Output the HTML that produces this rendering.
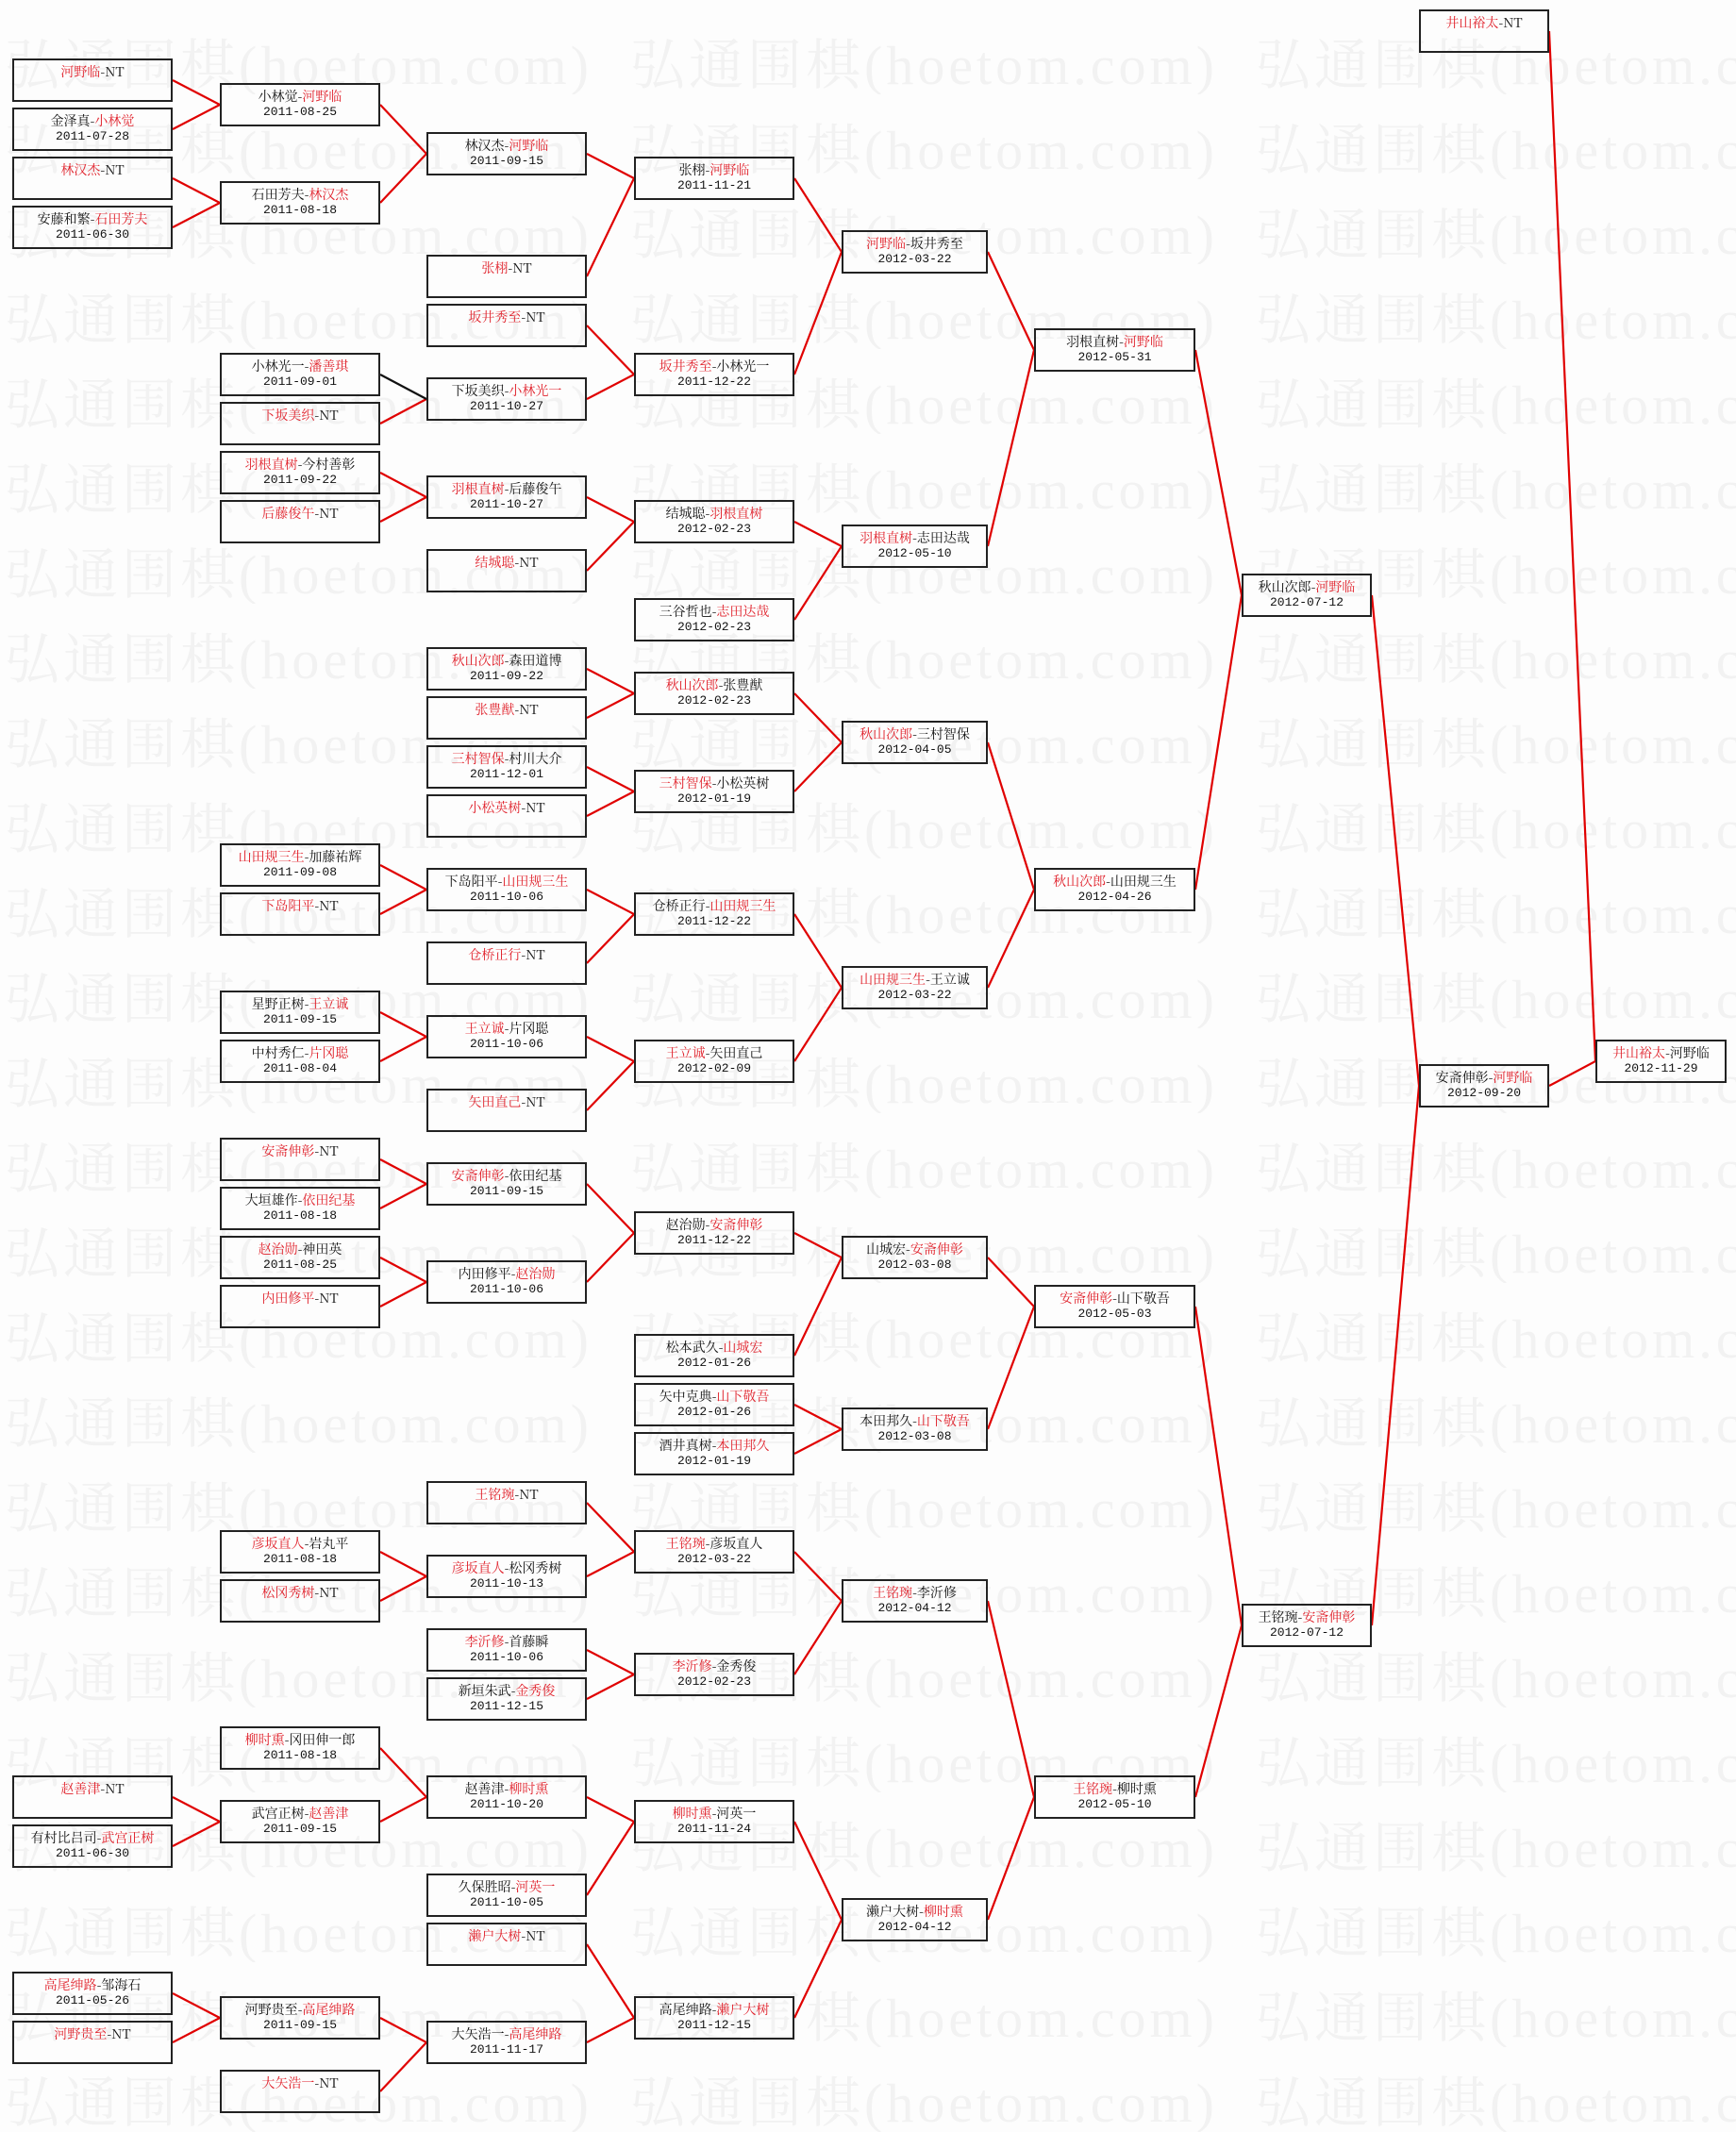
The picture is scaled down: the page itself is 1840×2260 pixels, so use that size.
<!DOCTYPE html>
<html><head><meta charset="utf-8">
<style>
html,body{margin:0;padding:0;}
body{width:1840px;height:2249px;position:relative;overflow:hidden;background:#fdfdfd;font-family:"Liberation Serif","Noto Serif CJK SC",serif;}
.wm{position:absolute;left:5px;white-space:nowrap;color:#f2f2f2;font-size:58px;line-height:60px;font-family:"Liberation Serif","Noto Serif CJK SC",serif;letter-spacing:4px;}
.wm span{display:inline-block;width:663px;overflow:hidden;vertical-align:top;}
svg{position:absolute;left:0;top:0;}
.b{position:absolute;box-sizing:border-box;height:46px;border:2px solid #222;text-align:center;padding-top:4px;}
.b .t{font-size:14px;line-height:17px;color:#111;font-family:"Noto Serif CJK SC","Liberation Serif",serif;white-space:nowrap;}
.b .d{font-size:13px;line-height:16px;color:#111;font-family:"Liberation Mono",monospace;}
.r{color:#e0202a;}
.c1{left:13px;width:170px}.c2{left:233px;width:170px}.c3{left:452px;width:170px}.c4{left:672px;width:170px}
.c5{left:892px;width:155px}.c6{left:1096px;width:171px}.c7{left:1316px;width:138px}.c8{left:1504px;width:138px}.c9{left:1691px;width:139px}
</style></head><body>
<div class="wm" style="top:40px"><span>弘通围棋(hoetom.com)</span><span>弘通围棋(hoetom.com)</span><span>弘通围棋(hoetom.com)</span></div>
<div class="wm" style="top:130px"><span>弘通围棋(hoetom.com)</span><span>弘通围棋(hoetom.com)</span><span>弘通围棋(hoetom.com)</span></div>
<div class="wm" style="top:220px"><span>弘通围棋(hoetom.com)</span><span>弘通围棋(hoetom.com)</span><span>弘通围棋(hoetom.com)</span></div>
<div class="wm" style="top:310px"><span>弘通围棋(hoetom.com)</span><span>弘通围棋(hoetom.com)</span><span>弘通围棋(hoetom.com)</span></div>
<div class="wm" style="top:400px"><span>弘通围棋(hoetom.com)</span><span>弘通围棋(hoetom.com)</span><span>弘通围棋(hoetom.com)</span></div>
<div class="wm" style="top:490px"><span>弘通围棋(hoetom.com)</span><span>弘通围棋(hoetom.com)</span><span>弘通围棋(hoetom.com)</span></div>
<div class="wm" style="top:580px"><span>弘通围棋(hoetom.com)</span><span>弘通围棋(hoetom.com)</span><span>弘通围棋(hoetom.com)</span></div>
<div class="wm" style="top:670px"><span>弘通围棋(hoetom.com)</span><span>弘通围棋(hoetom.com)</span><span>弘通围棋(hoetom.com)</span></div>
<div class="wm" style="top:760px"><span>弘通围棋(hoetom.com)</span><span>弘通围棋(hoetom.com)</span><span>弘通围棋(hoetom.com)</span></div>
<div class="wm" style="top:850px"><span>弘通围棋(hoetom.com)</span><span>弘通围棋(hoetom.com)</span><span>弘通围棋(hoetom.com)</span></div>
<div class="wm" style="top:940px"><span>弘通围棋(hoetom.com)</span><span>弘通围棋(hoetom.com)</span><span>弘通围棋(hoetom.com)</span></div>
<div class="wm" style="top:1030px"><span>弘通围棋(hoetom.com)</span><span>弘通围棋(hoetom.com)</span><span>弘通围棋(hoetom.com)</span></div>
<div class="wm" style="top:1120px"><span>弘通围棋(hoetom.com)</span><span>弘通围棋(hoetom.com)</span><span>弘通围棋(hoetom.com)</span></div>
<div class="wm" style="top:1210px"><span>弘通围棋(hoetom.com)</span><span>弘通围棋(hoetom.com)</span><span>弘通围棋(hoetom.com)</span></div>
<div class="wm" style="top:1300px"><span>弘通围棋(hoetom.com)</span><span>弘通围棋(hoetom.com)</span><span>弘通围棋(hoetom.com)</span></div>
<div class="wm" style="top:1390px"><span>弘通围棋(hoetom.com)</span><span>弘通围棋(hoetom.com)</span><span>弘通围棋(hoetom.com)</span></div>
<div class="wm" style="top:1480px"><span>弘通围棋(hoetom.com)</span><span>弘通围棋(hoetom.com)</span><span>弘通围棋(hoetom.com)</span></div>
<div class="wm" style="top:1570px"><span>弘通围棋(hoetom.com)</span><span>弘通围棋(hoetom.com)</span><span>弘通围棋(hoetom.com)</span></div>
<div class="wm" style="top:1660px"><span>弘通围棋(hoetom.com)</span><span>弘通围棋(hoetom.com)</span><span>弘通围棋(hoetom.com)</span></div>
<div class="wm" style="top:1750px"><span>弘通围棋(hoetom.com)</span><span>弘通围棋(hoetom.com)</span><span>弘通围棋(hoetom.com)</span></div>
<div class="wm" style="top:1840px"><span>弘通围棋(hoetom.com)</span><span>弘通围棋(hoetom.com)</span><span>弘通围棋(hoetom.com)</span></div>
<div class="wm" style="top:1930px"><span>弘通围棋(hoetom.com)</span><span>弘通围棋(hoetom.com)</span><span>弘通围棋(hoetom.com)</span></div>
<div class="wm" style="top:2020px"><span>弘通围棋(hoetom.com)</span><span>弘通围棋(hoetom.com)</span><span>弘通围棋(hoetom.com)</span></div>
<div class="wm" style="top:2110px"><span>弘通围棋(hoetom.com)</span><span>弘通围棋(hoetom.com)</span><span>弘通围棋(hoetom.com)</span></div>
<div class="wm" style="top:2200px"><span>弘通围棋(hoetom.com)</span><span>弘通围棋(hoetom.com)</span><span>弘通围棋(hoetom.com)</span></div>

<svg width="1840" height="2249" viewBox="0 0 1840 2249">
<g stroke="#e00000" stroke-width="2.2" fill="none">
<polyline points="183,85 233,111 183,137"/>
<polyline points="183,189 233,215 183,241"/>
<polyline points="183,1905 233,1931 183,1957"/>
<polyline points="183,2113 233,2139 183,2165"/>

<polyline points="403,111 452,163 403,215"/>
<polyline points="403,449 452,423"/>
<polyline points="403,501 452,527 403,553"/>
<polyline points="403,917 452,943 403,969"/>
<polyline points="403,1073 452,1099 403,1125"/>
<polyline points="403,1229 452,1255 403,1281"/>
<polyline points="403,1333 452,1359 403,1385"/>
<polyline points="403,1645 452,1671 403,1697"/>
<polyline points="403,1853 452,1905 403,1931"/>
<polyline points="403,2139 452,2165 403,2217"/>

<polyline points="622,163 672,189 622,293"/>
<polyline points="622,345 672,397 622,423"/>
<polyline points="622,527 672,553 622,605"/>
<polyline points="622,709 672,735 622,761"/>
<polyline points="622,813 672,839 622,865"/>
<polyline points="622,943 672,969 622,1021"/>
<polyline points="622,1099 672,1125 622,1177"/>
<polyline points="622,1255 672,1307 622,1359"/>
<polyline points="622,1593 672,1645 622,1671"/>
<polyline points="622,1749 672,1775 622,1801"/>
<polyline points="622,1905 672,1931 622,2009"/>
<polyline points="622,2061 672,2139 622,2165"/>

<polyline points="842,189 892,267 842,397"/>
<polyline points="842,553 892,579 842,657"/>
<polyline points="842,735 892,787 842,839"/>
<polyline points="842,969 892,1047 842,1125"/>
<polyline points="842,1307 892,1333 842,1437"/>
<polyline points="842,1489 892,1515 842,1541"/>
<polyline points="842,1645 892,1697 842,1775"/>
<polyline points="842,1931 892,2035 842,2139"/>

<polyline points="1047,267 1096,371 1047,579"/>
<polyline points="1047,787 1096,943 1047,1047"/>
<polyline points="1047,1333 1096,1385 1047,1515"/>
<polyline points="1047,1697 1096,1905 1047,2035"/>

<polyline points="1267,371 1316,631 1267,943"/>
<polyline points="1267,1385 1316,1723 1267,1905"/>

<polyline points="1454,631 1504,1151 1454,1723"/>
<polyline points="1642,33 1691,1125 1642,1151"/>
</g>
<line x1="403" y1="397" x2="452" y2="423" stroke="#111" stroke-width="2.2"/>
</svg>

<div class="b c1" style="top:62px"><div class="t"><span class="r">河野临</span>-NT</div></div>
<div class="b c1" style="top:114px"><div class="t">金泽真-<span class="r">小林觉</span></div><div class="d">2011-07-28</div></div>
<div class="b c1" style="top:166px"><div class="t"><span class="r">林汉杰</span>-NT</div></div>
<div class="b c1" style="top:218px"><div class="t">安藤和繁-<span class="r">石田芳夫</span></div><div class="d">2011-06-30</div></div>
<div class="b c1" style="top:1882px"><div class="t"><span class="r">赵善津</span>-NT</div></div>
<div class="b c1" style="top:1934px"><div class="t">有村比吕司-<span class="r">武宫正树</span></div><div class="d">2011-06-30</div></div>
<div class="b c1" style="top:2090px"><div class="t"><span class="r">高尾绅路</span>-邹海石</div><div class="d">2011-05-26</div></div>
<div class="b c1" style="top:2142px"><div class="t"><span class="r">河野贵至</span>-NT</div></div>

<div class="b c2" style="top:88px"><div class="t">小林觉-<span class="r">河野临</span></div><div class="d">2011-08-25</div></div>
<div class="b c2" style="top:192px"><div class="t">石田芳夫-<span class="r">林汉杰</span></div><div class="d">2011-08-18</div></div>
<div class="b c2" style="top:374px"><div class="t">小林光一-<span class="r">潘善琪</span></div><div class="d">2011-09-01</div></div>
<div class="b c2" style="top:426px"><div class="t"><span class="r">下坂美织</span>-NT</div></div>
<div class="b c2" style="top:478px"><div class="t"><span class="r">羽根直树</span>-今村善彰</div><div class="d">2011-09-22</div></div>
<div class="b c2" style="top:530px"><div class="t"><span class="r">后藤俊午</span>-NT</div></div>
<div class="b c2" style="top:894px"><div class="t"><span class="r">山田规三生</span>-加藤祐辉</div><div class="d">2011-09-08</div></div>
<div class="b c2" style="top:946px"><div class="t"><span class="r">下岛阳平</span>-NT</div></div>
<div class="b c2" style="top:1050px"><div class="t">星野正树-<span class="r">王立诚</span></div><div class="d">2011-09-15</div></div>
<div class="b c2" style="top:1102px"><div class="t">中村秀仁-<span class="r">片冈聪</span></div><div class="d">2011-08-04</div></div>
<div class="b c2" style="top:1206px"><div class="t"><span class="r">安斋伸彰</span>-NT</div></div>
<div class="b c2" style="top:1258px"><div class="t">大垣雄作-<span class="r">依田纪基</span></div><div class="d">2011-08-18</div></div>
<div class="b c2" style="top:1310px"><div class="t"><span class="r">赵治勋</span>-神田英</div><div class="d">2011-08-25</div></div>
<div class="b c2" style="top:1362px"><div class="t"><span class="r">内田修平</span>-NT</div></div>
<div class="b c2" style="top:1622px"><div class="t"><span class="r">彦坂直人</span>-岩丸平</div><div class="d">2011-08-18</div></div>
<div class="b c2" style="top:1674px"><div class="t"><span class="r">松冈秀树</span>-NT</div></div>
<div class="b c2" style="top:1830px"><div class="t"><span class="r">柳时熏</span>-冈田伸一郎</div><div class="d">2011-08-18</div></div>
<div class="b c2" style="top:1908px"><div class="t">武宫正树-<span class="r">赵善津</span></div><div class="d">2011-09-15</div></div>
<div class="b c2" style="top:2116px"><div class="t">河野贵至-<span class="r">高尾绅路</span></div><div class="d">2011-09-15</div></div>
<div class="b c2" style="top:2194px"><div class="t"><span class="r">大矢浩一</span>-NT</div></div>

<div class="b c3" style="top:140px"><div class="t">林汉杰-<span class="r">河野临</span></div><div class="d">2011-09-15</div></div>
<div class="b c3" style="top:270px"><div class="t"><span class="r">张栩</span>-NT</div></div>
<div class="b c3" style="top:322px"><div class="t"><span class="r">坂井秀至</span>-NT</div></div>
<div class="b c3" style="top:400px"><div class="t">下坂美织-<span class="r">小林光一</span></div><div class="d">2011-10-27</div></div>
<div class="b c3" style="top:504px"><div class="t"><span class="r">羽根直树</span>-后藤俊午</div><div class="d">2011-10-27</div></div>
<div class="b c3" style="top:582px"><div class="t"><span class="r">结城聪</span>-NT</div></div>
<div class="b c3" style="top:686px"><div class="t"><span class="r">秋山次郎</span>-森田道博</div><div class="d">2011-09-22</div></div>
<div class="b c3" style="top:738px"><div class="t"><span class="r">张豊猷</span>-NT</div></div>
<div class="b c3" style="top:790px"><div class="t"><span class="r">三村智保</span>-村川大介</div><div class="d">2011-12-01</div></div>
<div class="b c3" style="top:842px"><div class="t"><span class="r">小松英树</span>-NT</div></div>
<div class="b c3" style="top:920px"><div class="t">下岛阳平-<span class="r">山田规三生</span></div><div class="d">2011-10-06</div></div>
<div class="b c3" style="top:998px"><div class="t"><span class="r">仓桥正行</span>-NT</div></div>
<div class="b c3" style="top:1076px"><div class="t"><span class="r">王立诚</span>-片冈聪</div><div class="d">2011-10-06</div></div>
<div class="b c3" style="top:1154px"><div class="t"><span class="r">矢田直己</span>-NT</div></div>
<div class="b c3" style="top:1232px"><div class="t"><span class="r">安斋伸彰</span>-依田纪基</div><div class="d">2011-09-15</div></div>
<div class="b c3" style="top:1336px"><div class="t">内田修平-<span class="r">赵治勋</span></div><div class="d">2011-10-06</div></div>
<div class="b c3" style="top:1570px"><div class="t"><span class="r">王铭琬</span>-NT</div></div>
<div class="b c3" style="top:1648px"><div class="t"><span class="r">彦坂直人</span>-松冈秀树</div><div class="d">2011-10-13</div></div>
<div class="b c3" style="top:1726px"><div class="t"><span class="r">李沂修</span>-首藤瞬</div><div class="d">2011-10-06</div></div>
<div class="b c3" style="top:1778px"><div class="t">新垣朱武-<span class="r">金秀俊</span></div><div class="d">2011-12-15</div></div>
<div class="b c3" style="top:1882px"><div class="t">赵善津-<span class="r">柳时熏</span></div><div class="d">2011-10-20</div></div>
<div class="b c3" style="top:1986px"><div class="t">久保胜昭-<span class="r">河英一</span></div><div class="d">2011-10-05</div></div>
<div class="b c3" style="top:2038px"><div class="t"><span class="r">濑户大树</span>-NT</div></div>
<div class="b c3" style="top:2142px"><div class="t">大矢浩一-<span class="r">高尾绅路</span></div><div class="d">2011-11-17</div></div>

<div class="b c4" style="top:166px"><div class="t">张栩-<span class="r">河野临</span></div><div class="d">2011-11-21</div></div>
<div class="b c4" style="top:374px"><div class="t"><span class="r">坂井秀至</span>-小林光一</div><div class="d">2011-12-22</div></div>
<div class="b c4" style="top:530px"><div class="t">结城聪-<span class="r">羽根直树</span></div><div class="d">2012-02-23</div></div>
<div class="b c4" style="top:634px"><div class="t">三谷哲也-<span class="r">志田达哉</span></div><div class="d">2012-02-23</div></div>
<div class="b c4" style="top:712px"><div class="t"><span class="r">秋山次郎</span>-张豊猷</div><div class="d">2012-02-23</div></div>
<div class="b c4" style="top:816px"><div class="t"><span class="r">三村智保</span>-小松英树</div><div class="d">2012-01-19</div></div>
<div class="b c4" style="top:946px"><div class="t">仓桥正行-<span class="r">山田规三生</span></div><div class="d">2011-12-22</div></div>
<div class="b c4" style="top:1102px"><div class="t"><span class="r">王立诚</span>-矢田直己</div><div class="d">2012-02-09</div></div>
<div class="b c4" style="top:1284px"><div class="t">赵治勋-<span class="r">安斋伸彰</span></div><div class="d">2011-12-22</div></div>
<div class="b c4" style="top:1414px"><div class="t">松本武久-<span class="r">山城宏</span></div><div class="d">2012-01-26</div></div>
<div class="b c4" style="top:1466px"><div class="t">矢中克典-<span class="r">山下敬吾</span></div><div class="d">2012-01-26</div></div>
<div class="b c4" style="top:1518px"><div class="t">酒井真树-<span class="r">本田邦久</span></div><div class="d">2012-01-19</div></div>
<div class="b c4" style="top:1622px"><div class="t"><span class="r">王铭琬</span>-彦坂直人</div><div class="d">2012-03-22</div></div>
<div class="b c4" style="top:1752px"><div class="t"><span class="r">李沂修</span>-金秀俊</div><div class="d">2012-02-23</div></div>
<div class="b c4" style="top:1908px"><div class="t"><span class="r">柳时熏</span>-河英一</div><div class="d">2011-11-24</div></div>
<div class="b c4" style="top:2116px"><div class="t">高尾绅路-<span class="r">濑户大树</span></div><div class="d">2011-12-15</div></div>

<div class="b c5" style="top:244px"><div class="t"><span class="r">河野临</span>-坂井秀至</div><div class="d">2012-03-22</div></div>
<div class="b c5" style="top:556px"><div class="t"><span class="r">羽根直树</span>-志田达哉</div><div class="d">2012-05-10</div></div>
<div class="b c5" style="top:764px"><div class="t"><span class="r">秋山次郎</span>-三村智保</div><div class="d">2012-04-05</div></div>
<div class="b c5" style="top:1024px"><div class="t"><span class="r">山田规三生</span>-王立诚</div><div class="d">2012-03-22</div></div>
<div class="b c5" style="top:1310px"><div class="t">山城宏-<span class="r">安斋伸彰</span></div><div class="d">2012-03-08</div></div>
<div class="b c5" style="top:1492px"><div class="t">本田邦久-<span class="r">山下敬吾</span></div><div class="d">2012-03-08</div></div>
<div class="b c5" style="top:1674px"><div class="t"><span class="r">王铭琬</span>-李沂修</div><div class="d">2012-04-12</div></div>
<div class="b c5" style="top:2012px"><div class="t">濑户大树-<span class="r">柳时熏</span></div><div class="d">2012-04-12</div></div>

<div class="b c6" style="top:348px"><div class="t">羽根直树-<span class="r">河野临</span></div><div class="d">2012-05-31</div></div>
<div class="b c6" style="top:920px"><div class="t"><span class="r">秋山次郎</span>-山田规三生</div><div class="d">2012-04-26</div></div>
<div class="b c6" style="top:1362px"><div class="t"><span class="r">安斋伸彰</span>-山下敬吾</div><div class="d">2012-05-03</div></div>
<div class="b c6" style="top:1882px"><div class="t"><span class="r">王铭琬</span>-柳时熏</div><div class="d">2012-05-10</div></div>

<div class="b c7" style="top:608px"><div class="t">秋山次郎-<span class="r">河野临</span></div><div class="d">2012-07-12</div></div>
<div class="b c7" style="top:1700px"><div class="t">王铭琬-<span class="r">安斋伸彰</span></div><div class="d">2012-07-12</div></div>

<div class="b c8" style="top:10px"><div class="t"><span class="r">井山裕太</span>-NT</div></div>
<div class="b c8" style="top:1128px"><div class="t">安斋伸彰-<span class="r">河野临</span></div><div class="d">2012-09-20</div></div>

<div class="b c9" style="top:1102px"><div class="t"><span class="r">井山裕太</span>-河野临</div><div class="d">2012-11-29</div></div>
</body></html>
